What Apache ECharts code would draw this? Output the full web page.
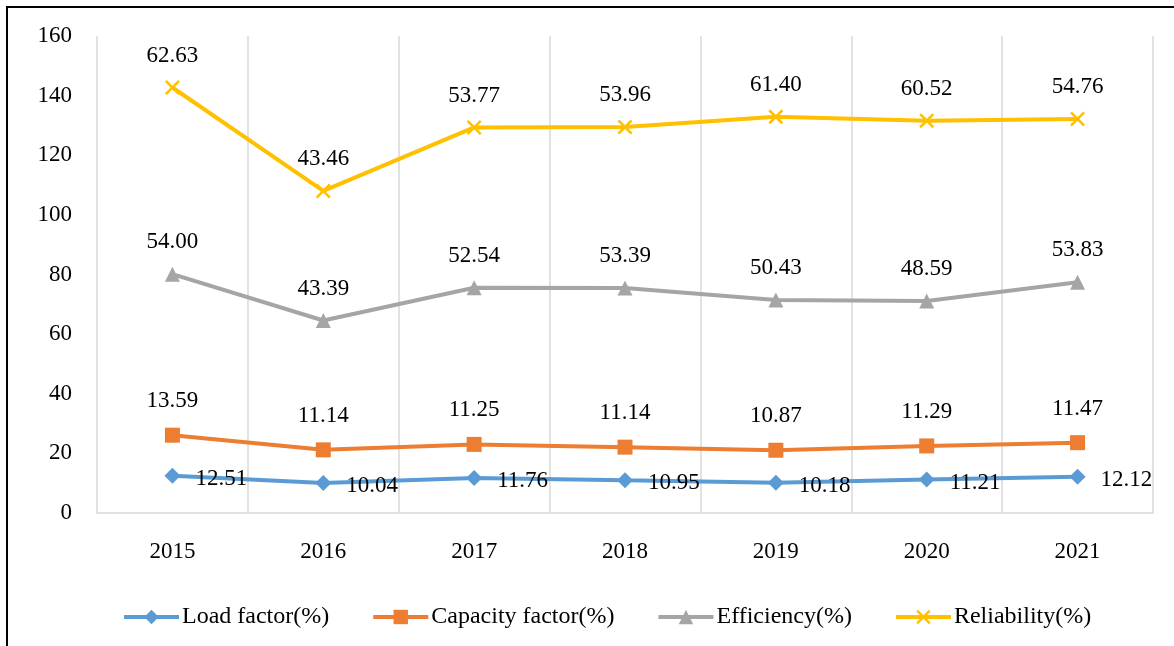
<!DOCTYPE html>
<html><head><meta charset="utf-8">
<script src="https://cdn.jsdelivr.net/npm/echarts@6/dist/echarts.min.js"></script>
<style>html,body{margin:0;padding:0;background:#fff}#c{width:1174px;height:646px}</style>
</head><body><div id="c"></div>
<script>
const categories = ['2015','2016','2017','2018','2019','2020','2021'];
const loadFactor = [12.51,10.04,11.76,10.95,10.18,11.21,12.12];
const capacityFactor = [13.59,11.14,11.25,11.14,10.87,11.29,11.47];
const efficiency = [54.00,43.39,52.54,53.39,50.43,48.59,53.83];
const reliability = [62.63,43.46,53.77,53.96,61.40,60.52,54.76];
const yTicks = [0,20,40,60,80,100,120,140,160];

const font = '"Liberation Serif","Times New Roman",serif';
const xPath = 'path://M0,1.2L1.2,0L5,3.8L8.8,0L10,1.2L6.2,5L10,8.8L8.8,10L5,6.2L1.2,10L0,8.8L3.8,5Z';
function mk(name, data, color, symbol, size, labelPos, dist, offset){
  return {
    name, type:'line', stack:'total', data, symbol, symbolSize:size,
    lineStyle:{color, width:4}, itemStyle:{color},
    label:{show:true, position:labelPos, distance:dist, offset:offset||[0,0], color:'#000', fontFamily:font, fontSize:23,
      formatter:p=>Number(p.value).toFixed(2)},
    emphasis:{disabled:true}
  };
}
const chart = echarts.init(document.getElementById('c'));
chart.setOption({
  animation:false,
  textStyle:{fontFamily:font},
  grid:{left:97, right:21, top:36, bottom:133},
  xAxis:{type:'category', data:categories, boundaryGap:true,
    axisLine:{lineStyle:{color:'#D9D9D9', width:1.5}}, axisTick:{show:false},
    splitLine:{show:true, lineStyle:{color:'#D9D9D9', width:1.5}},
    axisLabel:{color:'#000', fontSize:23, fontFamily:font, margin:27}},
  yAxis:{type:'value', min:0, max:160, interval:20,
    axisLine:{show:false}, axisTick:{show:false}, splitLine:{show:false},
    axisLabel:{color:'#000', fontSize:23, fontFamily:font, margin:25,
      formatter:v=>yTicks.includes(v)?String(v):''}},
  legend:{top:600, left:117, itemWidth:55, itemHeight:18, itemGap:42,
    lineStyle:{width:4},
    textStyle:{color:'#000', fontSize:24, fontFamily:font, padding:[0,0,0,-2]},
    data:['Load factor(%)','Capacity factor(%)','Efficiency(%)','Reliability(%)']},
  graphic:[{type:'rect', shape:{x:7,y:7,width:1200,height:700}, style:{fill:'none', stroke:'#000', lineWidth:2}, silent:true}],
  series:[
    mk('Load factor(%)', loadFactor, '#5B9BD5', 'diamond', 16, 'right', 15, [0,3]),
    mk('Capacity factor(%)', capacityFactor, '#ED7D31', 'rect', 15, 'top', 15),
    mk('Efficiency(%)', efficiency, '#A5A5A5', 'triangle', 15, 'top', 13),
    mk('Reliability(%)', reliability, '#FFC000', xPath, 15, 'top', 13)
  ]
});
</script></body></html>
